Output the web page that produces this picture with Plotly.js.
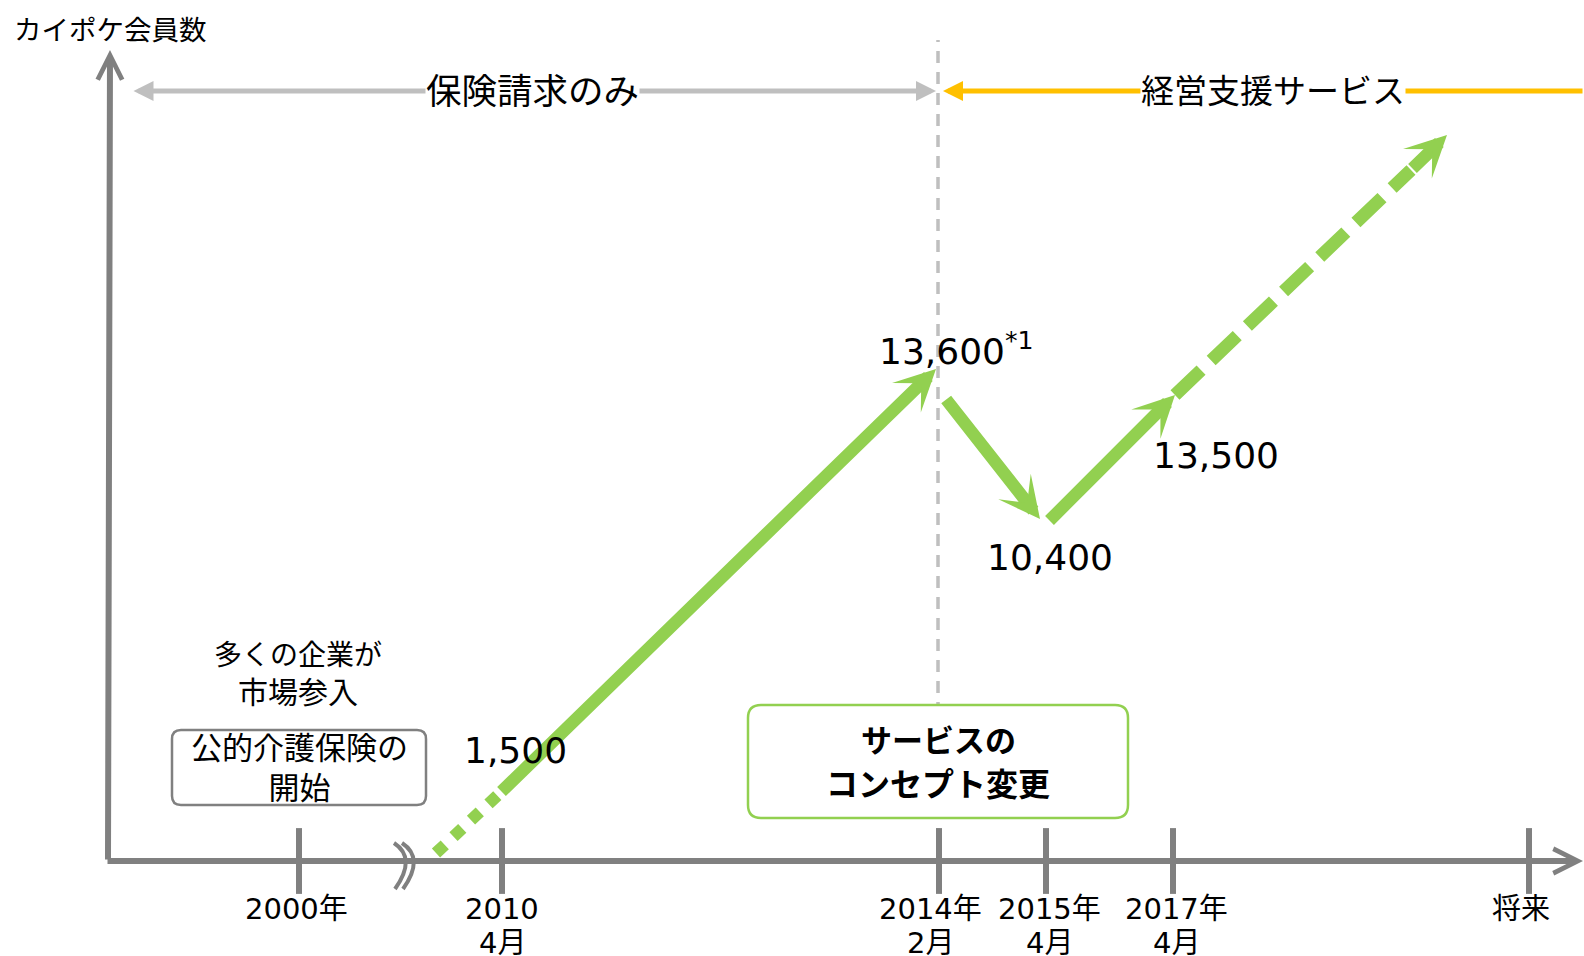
<!DOCTYPE html>
<html><head><meta charset="utf-8">
<script src="https://cdn.plot.ly/plotly-3.0.1.min.js"></script>
<style>html,body{margin:0;padding:0;background:#fff;overflow:hidden}</style>
</head><body><div id="chart" style="width:1584px;height:956px"></div>
<script>
// ---------- data (schematic positions) ----------
const yTitle = 'カイポケ会員数';
const tickLine1 = ['2000年', '2010', '2014年', '2015年', '2017年', '将来'];
const tickLine2 = ['', '4月', '2月', '4月', '4月', ''];
const tickPos = [190, 393, 830, 937, 1064, 1420];
const tickLabelPos = [187, 393, 821, 940, 1067, 1412];
const breakPos = 291;

const memberLabels = ['1,500', '13,600<sup>*1</sup>', '10,400', '13,500'];
const memberValues = [1500, 13600, 10400, 13500];
const labelX = [406, 768, 941, 1107];
const labelY = [111, 512, 304, 406];

// growth path (x: timeline position, y: schematic member level)
const dottedX = [327, 391];
const dottedY = [8, 68];
const arrowStartX = [391, 836, 939];
const arrowStartY = [68, 463, 339];
const arrowEndX = [827, 931, 1066];
const arrowEndY = [492, 342, 466];
const futureX = [1066, 1302];
const futureY = [466, 691];
const futureTipX = 1338;
const futureTipY = 726;

const phaseLabels = ['保険請求のみ', '経営支援サービス'];
const phaseStart = [23, 1475];
const phaseEnd = [827, 834];
const phaseLabelX = [423, 1164];
const phaseLevel = 770;
const conceptChangeX = 829;

const notes = ['多くの企業が', '市場参入'];
const boxText1 = '公的介護保険の<br>開始';
const boxText2 = ['サービスの', 'コンセプト変更'];

// ---------- drawing ----------
const FONT = 'DejaVu Sans, "Noto Sans CJK JP", sans-serif';
const GREEN = '#92D050', GRAY = '#808080', LGRAY = '#BFBFBF', YEL = '#FFC000';

const traces = [
  { x: [conceptChangeX, conceptChangeX], y: [0, 821], mode: 'lines',
    line: { color: LGRAY, width: 3.5, dash: '12px,9px' }, hoverinfo: 'skip' },
  { x: dottedX, y: dottedY, mode: 'lines',
    line: { color: GREEN, width: 12, dash: 'dot' }, hoverinfo: 'skip' },
  { x: futureX, y: futureY, mode: 'lines',
    line: { color: GREEN, width: 13, dash: '36px,14px' }, hoverinfo: 'skip' },
  { x: tickPos, y: tickPos.map(() => 0), mode: 'markers',
    marker: { symbol: 'line-ns', size: 47, color: GRAY, line: { color: GRAY, width: 6 } }, hoverinfo: 'skip' }
];

function arrow(x0, y0, x1, y1, color, width, head, size, side) {
  return { x: x1, y: y1, ax: x0, ay: y0, xref: 'x', yref: 'y', axref: 'x', ayref: 'y',
    text: '', showarrow: true, arrowcolor: color, arrowwidth: width, arrowhead: head,
    startarrowhead: head, arrowsize: size, startarrowsize: size, arrowside: side || 'end', standoff: 0, startstandoff: 0 };
}
function label(text, x, y, size, opts) {
  return Object.assign({ text: text, x: x, y: y, xref: 'x', yref: 'y', showarrow: false,
    xanchor: 'center', yanchor: 'middle', font: { family: FONT, size: size, color: '#000' } }, opts || {});
}

const ann = [];
// axes with arrowheads
ann.push(arrow(-3, 0, 1474, 0, GRAY, 6, 5, 0.8));
ann.push(arrow(-1, 0, 1, 811, GRAY, 6, 5, 0.8));
// phase arrows
ann.push(arrow(phaseStart[0], phaseLevel, phaseEnd[0], phaseLevel, LGRAY, 5, 2, 0.8, 'end+start'));
ann.push(arrow(phaseStart[1], phaseLevel, phaseEnd[1], phaseLevel, YEL, 5, 2, 0.8));
ann.push(label(phaseLabels[0], phaseLabelX[0], phaseLevel, 35.5, { bgcolor: '#fff', borderpad: 0 }));
ann.push(label(phaseLabels[1], phaseLabelX[1], phaseLevel, 33, { bgcolor: '#fff', borderpad: 0 }));
// growth arrows
for (let i = 0; i < arrowStartX.length; i++) {
  ann.push(arrow(arrowStartX[i], arrowStartY[i], arrowEndX[i], arrowEndY[i], GREEN, 12.5, 3, 0.55));
}
ann.push(arrow(futureX[1], futureY[1], futureTipX, futureTipY, GREEN, 12.5, 3, 0.55));
// member labels
for (let i = 0; i < memberLabels.length; i++) {
  ann.push(label(memberLabels[i], labelX[i], labelY[i], 36, i === 1 ? { xanchor: 'left' } : {}));
}
// tick labels (two lines)
for (let i = 0; i < tickLine1.length; i++) {
  ann.push(label(tickLine1[i], tickLabelPos[i], -48, 29));
  if (tickLine2[i]) ann.push(label(tickLine2[i], tickLabelPos[i], -82, 29));
}
// y title
ann.push(label(yTitle, -97, 831, 27.5, { xanchor: 'left' }));
// notes
ann.push(label(notes[0], 189, 206, 28));
ann.push(label(notes[1], 189, 169, 30));
ann.push(label(boxText1, 190, 93, 31));
ann.push(label(boxText2[0], 829, 120, 31, { font: { family: FONT, size: 31, color: '#000', weight: 'bold' } }));
ann.push(label(boxText2[1], 829, 76, 32, { font: { family: FONT, size: 32, color: '#000', weight: 'bold' } }));

function roundRect(x0, y0, x1, y1, r) {
  return `M${x0 + r},${y1} L${x1 - r},${y1} Q${x1},${y1} ${x1},${y1 - r} L${x1},${y0 + r} Q${x1},${y0} ${x1 - r},${y0} ` +
         `L${x0 + r},${y0} Q${x0},${y0} ${x0},${y0 + r} L${x0},${y1 - r} Q${x0},${y1} ${x0 + r},${y1} Z`;
}
const b = breakPos;
const shapes = [
  { type: 'path', xref: 'x', yref: 'y', path: roundRect(63, 56, 317, 131, 9),
    fillcolor: '#fff', line: { color: GRAY, width: 2.5 } },
  { type: 'path', xref: 'x', yref: 'y', path: roundRect(639, 43, 1019, 156, 13),
    fillcolor: '#fff', line: { color: GREEN, width: 2.5 } },
  { type: 'path', xref: 'x', yref: 'y',
    path: `M${b - 6},18 Q${b + 17},3 ${b - 5},-28 L${b + 3},-28 Q${b + 25},3 ${b + 2},18 Z`,
    fillcolor: '#fff', line: { width: 0 } },
  { type: 'path', xref: 'x', yref: 'y', path: `M${b - 6},18 Q${b + 17},3 ${b - 5},-28`,
    line: { color: GRAY, width: 4 } },
  { type: 'path', xref: 'x', yref: 'y', path: `M${b + 2},18 Q${b + 25},3 ${b + 3},-28`,
    line: { color: GRAY, width: 4 } }
];

const layout = {
  width: 1584, height: 956,
  margin: { l: 0, r: 0, t: 0, b: 0 },
  paper_bgcolor: '#fff', plot_bgcolor: '#fff',
  showlegend: false, hovermode: false,
  xaxis: { range: [-109, 1475], visible: false, fixedrange: true },
  yaxis: { range: [-95, 861], visible: false, fixedrange: true },
  annotations: ann, shapes: shapes
};
Plotly.newPlot('chart', traces, layout, { displayModeBar: false, staticPlot: true });
</script>
</body></html>
